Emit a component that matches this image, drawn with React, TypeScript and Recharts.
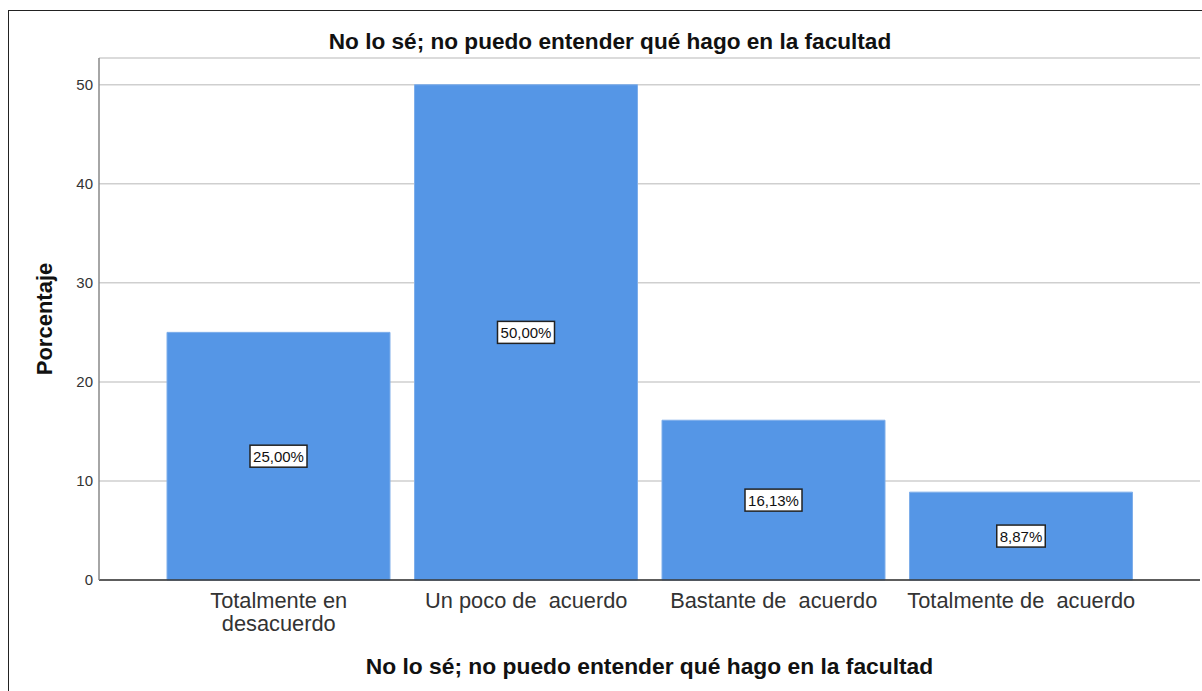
import { BarChart, Bar, XAxis, YAxis, CartesianGrid, LabelList, Label } from "recharts";

const categories = [
  "Totalmente en\ndesacuerdo",
  "Un poco de  acuerdo",
  "Bastante de  acuerdo",
  "Totalmente de  acuerdo",
];
const percentages = [25.0, 50.0, 16.13, 8.87];
const yTicks = [0, 10, 20, 30, 40, 50];
const chartTitle = "No lo sé; no puedo entender qué hago en la facultad";
const xTitle = "No lo sé; no puedo entender qué hago en la facultad";
const yTitle = "Porcentaje";

const data = categories.map((name, i) => ({ name, value: percentages[i] }));

const FONT = "'Liberation Sans', Arial, sans-serif";

function CategoryTick({ x, y, payload }: any) {
  const lines = String(payload.value).split("\n");
  return (
    <text
      x={x}
      y={y}
      textAnchor="middle"
      fill="#333"
      fontSize={21.8}
      fontFamily={FONT}
      style={{ whiteSpace: "pre" }}
    >
      {lines.map((l, i) => (
        <tspan key={i} x={x} dy={i === 0 ? 28 : 23}>
          {l}
        </tspan>
      ))}
    </text>
  );
}

function ValueLabel(props: any) {
  const { x, y, width, height, value } = props;
  const cx = x + width / 2;
  const cy = y + height / 2;
  const text = Number(value).toFixed(2).replace(".", ",") + "%";
  const w = text.length * 8.5 + 6;
  const h = 22;
  return (
    <g>
      <rect x={cx - w / 2} y={cy - h / 2} width={w} height={h} fill="#fff" stroke="#222" strokeWidth={1.5} />
      <text x={cx} y={cy + 5.5} textAnchor="middle" fontSize={15} fontFamily={FONT} fill="#111">
        {text}
      </text>
    </g>
  );
}

export default function App() {
  return (
    <div
      style={{
        position: "fixed",
        left: 0,
        top: 0,
        width: 1202,
        height: 691,
        overflow: "hidden",
        background: "#fff",
        fontFamily: FONT,
      }}
    >
      {/* outer frame, runs off the right and bottom edges */}
      <div
        style={{
          position: "absolute",
          left: 8,
          top: 10,
          width: 1400,
          height: 900,
          border: "1px solid #222",
        }}
      />
      <div
        style={{
          position: "absolute",
          left: 0,
          top: 31,
          width: 1220,
          textAlign: "center",
          fontSize: 22.6,
          lineHeight: "22px",
          fontWeight: "bold",
          color: "#111",
        }}
      >
        {chartTitle}
      </div>
      <div style={{ position: "absolute", left: 0, top: 0 }}>
        <BarChart
          width={1202}
          height={691}
          data={data}
          margin={{ top: 58, right: 2, bottom: 0, left: 0 }}
        >
          <CartesianGrid vertical={false} stroke="#cfcfcf" strokeWidth={1.5} />
          <XAxis
            dataKey="name"
            height={111}
            padding={{ left: 56, right: 55 }}
            tickLine={false}
            tickSize={0}
            tickMargin={0}
            interval={0}
            axisLine={{ stroke: "#333", strokeWidth: 1.5 }}
            tick={<CategoryTick />}
          >
            <Label
              content={({ viewBox }: any) => (
                <text
                  x={viewBox.x + viewBox.width / 2}
                  y={viewBox.y + 94}
                  textAnchor="middle"
                  fontSize={22.8}
                  fontWeight="bold"
                  fontFamily={FONT}
                  fill="#111"
                >
                  {xTitle}
                </text>
              )}
            />
          </XAxis>
          <YAxis
            width={99}
            domain={[0, 52.7]}
            ticks={yTicks}
            tickLine={false}
            tickSize={0}
            tickMargin={6}
            axisLine={{ stroke: "#888", strokeWidth: 1.5 }}
            tick={{ fontSize: 15, fill: "#333", fontFamily: FONT }}
          >
            <Label
              content={({ viewBox }: any) => {
                const cx = viewBox.x + 44;
                const cy = viewBox.y + viewBox.height / 2;
                return (
                  <text
                    x={cx}
                    y={cy}
                    transform={`rotate(-90 ${cx} ${cy})`}
                    textAnchor="middle"
                    dominantBaseline="central"
                    fontSize={22}
                    fontWeight="bold"
                    fontFamily={FONT}
                    fill="#111"
                  >
                    {yTitle}
                  </text>
                );
              }}
            />
          </YAxis>
          <Bar
            dataKey="value"
            fill="#5596e6"
            stroke="#7eaeea"
            strokeWidth={1}
            barSize={223}
            isAnimationActive={false}
          >
            <LabelList dataKey="value" content={<ValueLabel />} />
          </Bar>
        </BarChart>
      </div>
    </div>
  );
}
